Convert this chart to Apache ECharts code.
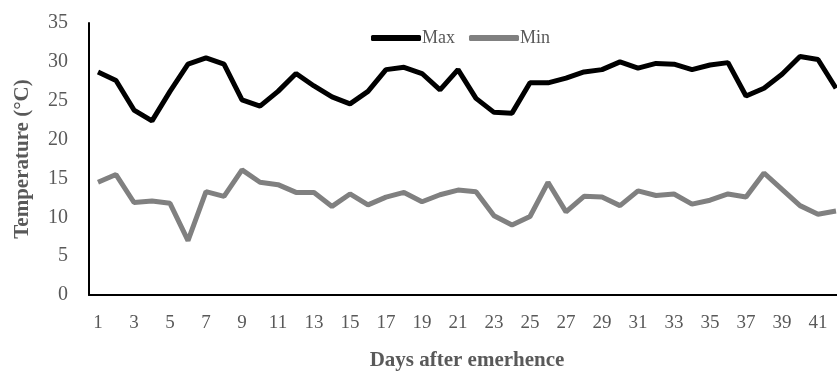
<!DOCTYPE html>
<html>
<head>
<meta charset="utf-8">
<script src="https://cdn.jsdelivr.net/npm/echarts@6/dist/echarts.min.js"></script>
<style>
  html, body { margin: 0; padding: 0; background: #fff; }
  #chart { width: 837px; height: 374px; }
</style>
</head>
<body>
<div id="chart"></div>
<script>
// days after emergence
const days = []
for (let d = 1; d <= 42; d++) days.push(String(d))

const maxTemp = [28.7, 27.6, 23.8, 22.4, 26.2, 29.7, 30.5, 29.7, 25.1, 24.3,
  26.2, 28.5, 26.9, 25.5, 24.6, 26.2, 29.0, 29.3, 28.5, 26.4,
  29.0, 25.3, 23.5, 23.4, 27.3, 27.3, 27.9, 28.7, 29.0, 30.0,
  29.2, 29.8, 29.7, 29.0, 29.6, 29.9, 25.6, 26.6, 28.4, 30.7,
  30.3, 26.6]

const minTemp = [14.5, 15.5, 11.9, 12.1, 11.8, 7.0, 13.3, 12.7, 16.1, 14.5,
  14.2, 13.2, 13.2, 11.4, 13.0, 11.6, 12.6, 13.2, 12.0, 12.9,
  13.5, 13.3, 10.2, 9.0, 10.1, 14.5, 10.7, 12.7, 12.6, 11.5,
  13.4, 12.8, 13.0, 11.7, 12.2, 13.0, 12.6, 15.7, 13.6, 11.5,
  10.4, 10.8]

const font = 'Liberation Serif'
const textGrey = '#595959'

const chart = echarts.init(document.getElementById('chart'))
chart.setOption({
  animation: false,
  legend: {
    top: 24,
    left: 366,
    itemWidth: 50,
    itemHeight: 6,
    itemGap: 14,
    icon: 'roundRect',
    textStyle: { fontFamily: font, fontSize: 18, color: textGrey, padding: [0, 0, 0, -4] },
    data: ['Max', 'Min']
  },
  grid: {
    left: 89,
    top: 23,
    width: 756,
    bottom: 79,
    outerBoundsMode: 'none'
  },
  xAxis: {
    type: 'category',
    data: days,
    boundaryGap: true,
    name: 'Days after emerhence',
    nameLocation: 'middle',
    nameGap: 55,
    nameTextStyle: { fontFamily: font, fontSize: 21, fontWeight: 'bold', color: textGrey },
    axisLine: { lineStyle: { color: '#000', width: 2 } },
    axisTick: { show: false },
    axisLabel: { interval: 1, margin: 19, fontFamily: font, fontSize: 19, color: textGrey },
    splitLine: { show: false }
  },
  yAxis: {
    type: 'value',
    min: 0,
    max: 35,
    interval: 5,
    name: 'Temperature (°C)',
    nameLocation: 'middle',
    nameGap: 56,
    nameTextStyle: { fontFamily: font, fontSize: 21, fontWeight: 'bold', color: textGrey },
    axisLine: { show: true, lineStyle: { color: '#000', width: 2 } },
    axisTick: { show: false },
    axisLabel: { margin: 21, fontFamily: font, fontSize: 20, color: textGrey },
    splitLine: { show: false }
  },
  series: [
    {
      name: 'Max',
      type: 'line',
      data: maxTemp,
      showSymbol: false,
      lineStyle: { color: '#000', width: 5 },
      itemStyle: { color: '#000' }
    },
    {
      name: 'Min',
      type: 'line',
      data: minTemp,
      showSymbol: false,
      lineStyle: { color: '#808080', width: 5 },
      itemStyle: { color: '#808080' }
    }
  ]
})
</script>
</body>
</html>
